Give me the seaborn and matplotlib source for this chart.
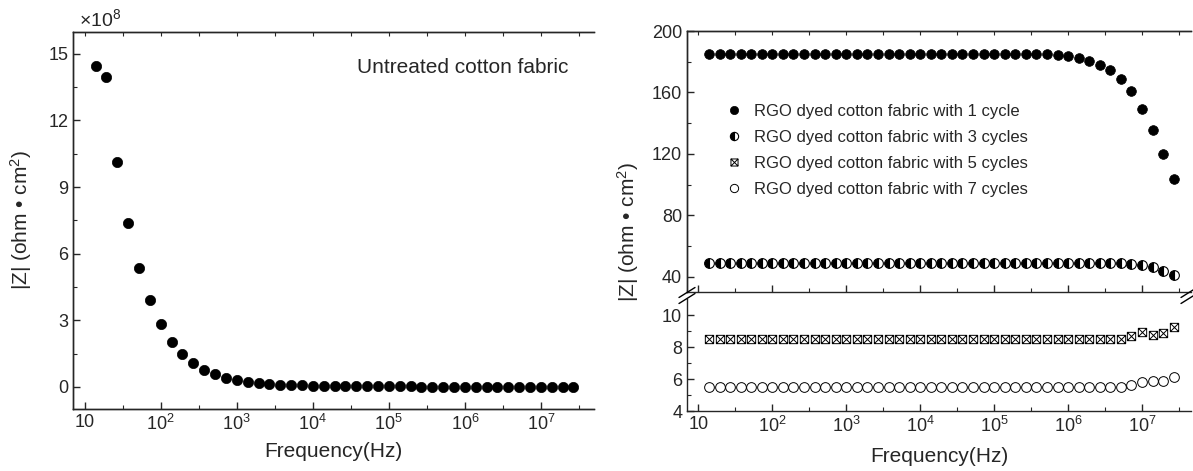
import numpy as np
import pandas as pd
import matplotlib
matplotlib.use("Agg")
import matplotlib.pyplot as plt
import seaborn as sns
from matplotlib.path import Path
from matplotlib.lines import Line2D
from matplotlib.ticker import FixedLocator, FuncFormatter, MultipleLocator, NullFormatter

sns.set_style("ticks")
plt.rcParams["font.family"] = ["Liberation Sans", "DejaVu Sans"]
plt.rcParams["mathtext.fontset"] = "custom"
plt.rcParams["mathtext.rm"] = "Liberation Sans"
plt.rcParams["mathtext.it"] = "Liberation Sans:italic"
plt.rcParams["axes.linewidth"] = 1.0

# ---------------- data ----------------
freq = [13.9, 19.3, 26.8, 37.3, 51.8, 72.0, 100, 139, 193, 268, 373, 518, 720,
        1e3, 1.39e3, 1.93e3, 2.68e3, 3.73e3, 5.18e3, 7.20e3,
        1e4, 1.39e4, 1.93e4, 2.68e4, 3.73e4, 5.18e4, 7.20e4,
        1e5, 1.39e5, 1.93e5, 2.68e5, 3.73e5, 5.18e5, 7.20e5,
        1e6, 1.39e6, 1.93e6, 2.68e6, 3.73e6, 5.18e6, 7.20e6,
        1e7, 1.39e7, 1.93e7, 2.68e7]

# untreated fabric, |Z| in units of 1e8 ohm cm^2
z_untreated = [14.44, 13.94, 10.12, 7.37, 5.36, 3.89, 2.81, 2.04, 1.47, 1.07,
               0.77, 0.57, 0.40, 0.30, 0.22, 0.17, 0.13, 0.10, 0.08, 0.06,
               0.05, 0.04, 0.035, 0.03, 0.025, 0.02, 0.018, 0.016, 0.015, 0.014,
               0.013, 0.012, 0.012, 0.011, 0.011, 0.010, 0.010, 0.010, 0.010, 0.010,
               0.010, 0.010, 0.010, 0.010, 0.010]

z_1cycle = [185.0] * 33 + [184.2, 183.5, 182.6, 180.6, 177.9, 174.8, 168.8,
                           161.1, 149.0, 135.3, 119.6, 103.4]
z_3cycles = [49.1] * 39 + [48.9, 48.5, 47.9, 46.5, 43.9, 40.8]
z_5cycles = [8.53] * 40 + [8.67, 8.95, 8.78, 8.85, 9.23]
z_7cycles = [5.53] * 40 + [5.62, 5.83, 5.85, 5.88, 6.14]

labels = ["RGO dyed cotton fabric with 1 cycle",
          "RGO dyed cotton fabric with 3 cycles",
          "RGO dyed cotton fabric with 5 cycles",
          "RGO dyed cotton fabric with 7 cycles"]

ylabel = "|Z| (ohm \u2022 cm$^{2}$)"

# crossed square marker
box_x = Path([(-1, -1), (1, -1), (1, 1), (-1, 1), (-1, -1),
              (-1, -1), (1, 1), (-1, 1), (1, -1)],
             [Path.MOVETO, Path.LINETO, Path.LINETO, Path.LINETO, Path.CLOSEPOLY,
              Path.MOVETO, Path.LINETO, Path.MOVETO, Path.LINETO])


def dec_fmt(v, pos):
    n = int(round(np.log10(v)))
    return "10" if n == 1 else "10$^{%d}$" % n


def style_xaxis(ax, xmax, labels_on=True):
    ax.set_xscale("log")
    ax.set_xlim(7, xmax)
    ax.xaxis.set_major_locator(FixedLocator([10.0 ** n for n in range(1, 8)]))
    ax.xaxis.set_minor_locator(FixedLocator([10.0 ** (n + 0.5) for n in range(0, 8)]))
    if labels_on:
        ax.xaxis.set_major_formatter(FuncFormatter(dec_fmt))
    else:
        ax.xaxis.set_major_formatter(NullFormatter())
    ax.xaxis.set_minor_formatter(NullFormatter())


def top_ticks(ax, xmax):
    t = ax.twiny()
    t.set_xscale("log")
    t.set_xlim(7, xmax)
    t.xaxis.set_major_locator(FixedLocator([10.0 ** (n * 0.5) for n in range(2, 16)]))
    t.xaxis.set_minor_locator(FixedLocator([]))
    t.xaxis.set_major_formatter(NullFormatter())
    t.tick_params(axis="x", direction="in", length=3, width=0.8, top=True)
    t.spines["right"].set_visible(False)
    return t


fig = plt.figure(figsize=(11.93, 4.71), dpi=100)
W, H = 1193.0, 471.0

# ---------------- left panel ----------------
axL = fig.add_axes([73 / W, 1 - 409 / H, (594 - 73) / W, (409 - 31.7) / H])
df_l = pd.DataFrame({"f": freq, "z": z_untreated})
sns.lineplot(data=df_l, x="f", y="z", ax=axL, linestyle="none", marker="o",
             markersize=7.4, color="black", markerfacecolor="black",
             markeredgecolor="black", markeredgewidth=0.5, sort=False)
style_xaxis(axL, 5e7)
axL.set_ylim(-1, 16)
axL.yaxis.set_major_locator(MultipleLocator(3))
axL.yaxis.set_minor_locator(MultipleLocator(1.5))
axL.tick_params(axis="both", which="major", direction="in", length=5, width=1, labelsize=13)
axL.tick_params(axis="both", which="minor", direction="in", length=3, width=0.8)
axL.tick_params(axis="x", which="both", top=False)
axL.spines["right"].set_visible(False)
axL.set_xlabel("Frequency(Hz)", fontsize=15, labelpad=6)
axL.set_ylabel(ylabel, fontsize=15, labelpad=10)
axL.text(0.545, 0.905, "Untreated cotton fabric", transform=axL.transAxes,
         fontsize=15, ha="left", va="center")
axL.text(0.012, 1.005, "\u00d710$^{8}$", transform=axL.transAxes, fontsize=14,
         ha="left", va="bottom")
top_ticks(axL, 5e7)

# ---------------- right panel (broken y axis) ----------------
x0, x1 = 687 / W, 1191 / W
axU = fig.add_axes([x0, 1 - 292 / H, x1 - x0, (292 - 31) / H])
axB = fig.add_axes([x0, 1 - 411 / H, x1 - x0, (411 - 299) / H])

df_r = pd.DataFrame({"f": freq, "c1": z_1cycle, "c3": z_3cycles,
                     "c5": z_5cycles, "c7": z_7cycles})

sns.lineplot(data=df_r, x="f", y="c1", ax=axU, linestyle="none", marker="o",
             markersize=7.0, color="black", markerfacecolor="black",
             markeredgecolor="black", markeredgewidth=0.5, sort=False, label=labels[0])
sns.lineplot(data=df_r, x="f", y="c3", ax=axU, linestyle="none", marker="o",
             markersize=7.0, color="black", markerfacecolor="black",
             markerfacecoloralt="white", fillstyle="left",
             markeredgecolor="black", markeredgewidth=0.8, sort=False, label=labels[1])
sns.lineplot(data=df_r, x="f", y="c5", ax=axB, linestyle="none", marker=box_x,
             markersize=6.0, color="black", markerfacecolor="none",
             markeredgecolor="black", markeredgewidth=0.7, sort=False, label=labels[2])
sns.lineplot(data=df_r, x="f", y="c7", ax=axB, linestyle="none", marker="o",
             markersize=7.0, color="black", markerfacecolor="none",
             markeredgecolor="black", markeredgewidth=0.7, sort=False, label=labels[3])

for ax in (axU, axB):
    ax.tick_params(axis="both", which="major", direction="in", length=5, width=1, labelsize=13)
    ax.tick_params(axis="both", which="minor", direction="in", length=3, width=0.8)
    ax.tick_params(axis="x", which="both", top=False)
    ax.spines["right"].set_visible(False)
    ax.set_xlabel("")
    ax.set_ylabel("")

style_xaxis(axU, 4.6e7, labels_on=False)
axU.tick_params(axis="x", which="both", bottom=False)
axU.spines["bottom"].set_visible(False)
axU.set_ylim(30, 200)
axU.yaxis.set_major_locator(FixedLocator([40, 80, 120, 160, 200]))
axU.yaxis.set_minor_locator(FixedLocator([60, 100, 140, 180]))
top_ticks(axU, 4.6e7)

style_xaxis(axB, 4.6e7)
axB.spines["top"].set_visible(False)
axB.set_ylim(4, 11)
axB.yaxis.set_major_locator(FixedLocator([4, 6, 8, 10]))
axB.yaxis.set_minor_locator(FixedLocator([5, 7, 9]))
axB.set_xlabel("Frequency(Hz)", fontsize=15, labelpad=8)

hU, lU = axU.get_legend_handles_labels()
hB, lB = axB.get_legend_handles_labels()
if axB.get_legend() is not None:
    axB.get_legend().remove()
axU.legend(hU + hB, lU + lB, loc="upper left", bbox_to_anchor=(0.06, 0.745),
           frameon=False, fontsize=12, labelspacing=0.66, handletextpad=0.6,
           handlelength=1.2, markerscale=0.85, borderaxespad=0)

fig.text(628 / W, 1 - 232 / H, ylabel, rotation=90, fontsize=15, ha="center", va="center")

# axis break marks
for bx in (687, 1189):
    for dy in (-3, 3):
        cy = 295.5 + dy
        fig.add_artist(Line2D([(bx - 8) / W, (bx + 8) / W],
                              [1 - (cy + 5) / H, 1 - (cy - 5) / H],
                              color="black", lw=1.0))

fig.savefig("out.png", dpi=100)
